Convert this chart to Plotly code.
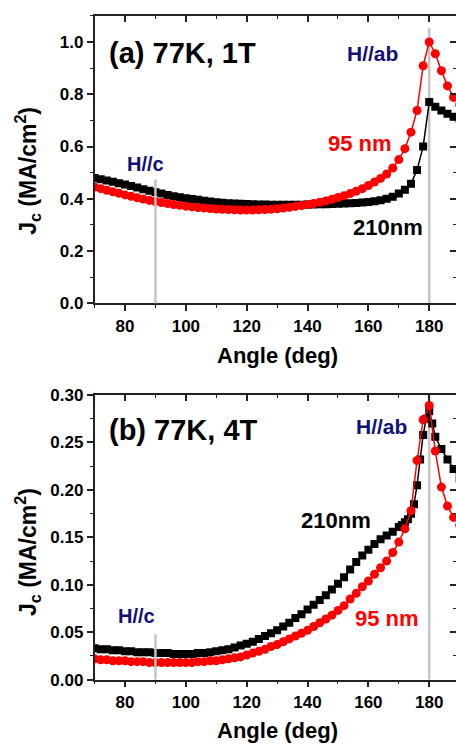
import plotly.graph_objects as go

# ---------------- data ----------------
# Panel (a) 77K, 1T
ang_a = list(range(70, 191, 2))
jc_a_210 = [0.480, 0.475, 0.470, 0.465, 0.460, 0.455, 0.449, 0.443, 0.437, 0.431,
            0.425, 0.420, 0.415, 0.410, 0.406, 0.402, 0.399, 0.396, 0.393, 0.390,
            0.387, 0.385, 0.383, 0.382, 0.381, 0.380, 0.379, 0.378, 0.378, 0.377,
            0.377, 0.377, 0.377, 0.377, 0.377, 0.378, 0.378, 0.379, 0.379, 0.380,
            0.381, 0.382, 0.383, 0.384, 0.386, 0.388, 0.391, 0.395, 0.400, 0.408,
            0.420, 0.435, 0.458, 0.510, 0.600, 0.770, 0.752, 0.738, 0.725, 0.714,
            0.705]
jc_a_95 = [0.445, 0.439, 0.433, 0.427, 0.421, 0.415, 0.410, 0.404, 0.399, 0.394,
           0.390, 0.386, 0.382, 0.378, 0.375, 0.372, 0.369, 0.367, 0.365, 0.363,
           0.361, 0.360, 0.359, 0.358, 0.357, 0.357, 0.357, 0.358, 0.359, 0.360,
           0.362, 0.365, 0.368, 0.371, 0.374, 0.378, 0.382, 0.387, 0.392, 0.398,
           0.405, 0.412, 0.420, 0.429, 0.439, 0.451, 0.464, 0.478, 0.495, 0.518,
           0.550, 0.592, 0.655, 0.738, 0.909, 1.000, 0.955, 0.890, 0.832, 0.788,
           0.760]

# Panel (b) 77K, 4T
ang_b_210 = list(range(70, 171, 2)) + list(range(171, 183)) + [184, 186, 188, 190]
jc_b_210 = [0.033, 0.032, 0.032, 0.031, 0.031, 0.030, 0.030, 0.029, 0.029, 0.029,
            0.028, 0.028, 0.028, 0.027, 0.027, 0.027, 0.027, 0.028, 0.028, 0.029,
            0.030, 0.031, 0.032, 0.034, 0.036, 0.038, 0.040, 0.043, 0.046, 0.049,
            0.052, 0.056, 0.060, 0.065, 0.069, 0.074, 0.079, 0.084, 0.089, 0.095,
            0.101, 0.108, 0.116, 0.124, 0.131, 0.137, 0.143, 0.148, 0.152, 0.156,
            0.161,
            0.163, 0.166, 0.169, 0.175, 0.185, 0.205, 0.232, 0.258, 0.275, 0.283,
            0.270, 0.256,
            0.243, 0.232, 0.222, 0.212]
ang_b_95 = list(range(70, 191, 2))
jc_b_95 = [0.022, 0.021, 0.021, 0.020, 0.020, 0.020, 0.019, 0.019, 0.019, 0.018,
           0.018, 0.018, 0.018, 0.018, 0.018, 0.018, 0.018, 0.019, 0.019, 0.020,
           0.020, 0.021, 0.022, 0.023, 0.024, 0.026, 0.028, 0.030, 0.032, 0.035,
           0.037, 0.040, 0.043, 0.046, 0.049, 0.052, 0.056, 0.060, 0.064, 0.068,
           0.073, 0.078, 0.085, 0.091, 0.098, 0.104, 0.111, 0.118, 0.125, 0.134,
           0.145, 0.159, 0.178, 0.231, 0.274, 0.289, 0.241, 0.203, 0.183, 0.171,
           0.163]

x_ticks = [80, 100, 120, 140, 160, 180]
ya_ticks = [0.0, 0.2, 0.4, 0.6, 0.8, 1.0]
ya_labels = ["0.0", "0.2", "0.4", "0.6", "0.8", "1.0"]
yb_ticks = [0.0, 0.05, 0.10, 0.15, 0.20, 0.25, 0.30]
yb_labels = ["0.00", "0.05", "0.10", "0.15", "0.20", "0.25", "0.30"]

H_C = 90
H_AB = 180

# ---------------- figure ----------------
W, H = 456, 755
FONT = "Liberation Sans, Arial, sans-serif"
RED = "#ff0000"
NAVY = "#10107a"
GRAY = "#c4c4c4"


def px_x(p):
    return p / W


def px_y(p):
    return (H - p) / H


XR = [70, 188.8]
XDOM = [px_x(94.6), 1.0]
YDOM_A = [px_y(302), px_y(7)]
YR_A = [0, 1.1]
YDOM_B = [px_y(688), px_y(396)]
YR_B = [0, 0.30]

fig = go.Figure()


def add_series(x, y, color, symbol, size, xa, ya):
    fig.add_trace(go.Scatter(
        x=x, y=y, mode="lines+markers", xaxis=xa, yaxis=ya,
        line=dict(color=color, width=1.5),
        marker=dict(color=color, symbol=symbol, size=size, line=dict(width=0)),
        showlegend=False, hoverinfo="skip"))


add_series(ang_a, jc_a_210, "black", "square", 8, "x", "y")
add_series(ang_a, jc_a_95, RED, "circle", 9, "x", "y")
add_series(ang_b_210, jc_b_210, "black", "square", 8, "x2", "y2")
add_series(ang_b_95, jc_b_95, RED, "circle", 9, "x2", "y2")

# dummy traces to create overlay subplots for inner ticks (top / right)
fig.add_trace(go.Scatter(x=[None], y=[None], xaxis="x3", yaxis="y3", showlegend=False))
fig.add_trace(go.Scatter(x=[None], y=[None], xaxis="x4", yaxis="y4", showlegend=False))

tickfont = dict(family=FONT, size=17, color="black", weight="bold")
axis_common = dict(showgrid=False, zeroline=False, showline=True, linecolor="#222",
                   linewidth=1.5, tickcolor="#222", tickwidth=1.5)

xbase = dict(range=XR, domain=XDOM, tickvals=x_ticks, ticks="outside", ticklen=6,
             tickfont=tickfont,
             minor=dict(dtick=10, tick0=70, ticks="outside", ticklen=3, tickcolor="#222",
                        tickwidth=1.2),
             **axis_common)

fig.update_layout(
    width=W, height=H,
    margin=dict(l=0, r=0, t=0, b=0),
    paper_bgcolor="white", plot_bgcolor="white",
    showlegend=False,
    xaxis=dict(anchor="y", **xbase),
    yaxis=dict(domain=YDOM_A, range=YR_A, anchor="x", tickvals=ya_ticks,
               ticktext=ya_labels, ticks="outside", ticklen=6, tickfont=tickfont,
               minor=dict(dtick=0.1, ticks="outside", ticklen=3, tickcolor="#222",
                          tickwidth=1.2),
               **axis_common),
    xaxis2=dict(anchor="y2", **xbase),
    yaxis2=dict(domain=YDOM_B, range=YR_B, anchor="x2", tickvals=yb_ticks,
                ticktext=yb_labels, ticks="outside", ticklen=6, tickfont=tickfont,
                minor=dict(dtick=0.025, ticks="outside", ticklen=3, tickcolor="#222",
                           tickwidth=1.2),
                **axis_common),
    xaxis3=dict(overlaying="x", anchor="y", side="top", range=XR, domain=XDOM,
                tickvals=x_ticks, ticks="inside", ticklen=6, showticklabels=False,
                minor=dict(dtick=10, tick0=70, ticks="inside", ticklen=3, tickcolor="#222",
                           tickwidth=1.2),
                **axis_common),
    yaxis3=dict(overlaying="y", anchor="x", side="right", range=YR_A,
                tickvals=ya_ticks, ticks="inside", ticklen=6, showticklabels=False,
                minor=dict(dtick=0.1, ticks="inside", ticklen=3, tickcolor="#222",
                           tickwidth=1.2),
                showgrid=False, zeroline=False, showline=False, tickcolor="#222",
                tickwidth=1.5),
    xaxis4=dict(overlaying="x2", anchor="y2", side="top", range=XR, domain=XDOM,
                tickvals=x_ticks, ticks="inside", ticklen=6, showticklabels=False,
                minor=dict(dtick=10, tick0=70, ticks="inside", ticklen=3, tickcolor="#222",
                           tickwidth=1.2),
                **axis_common),
    yaxis4=dict(overlaying="y2", anchor="x2", side="right", range=YR_B,
                tickvals=yb_ticks, ticks="inside", ticklen=6, showticklabels=False,
                minor=dict(dtick=0.025, ticks="inside", ticklen=3, tickcolor="#222",
                           tickwidth=1.2),
                showgrid=False, zeroline=False, showline=False, tickcolor="#222",
                tickwidth=1.5),
)


# reference lines H//c and H//ab
def vline(xr, yr, x, y1, layer):
    fig.add_shape(type="line", xref=xr, yref=yr, x0=x, x1=x, y0=0, y1=y1,
                  line=dict(color=GRAY, width=2.5), layer=layer)


vline("x", "y", H_C, 0.474, "above")
vline("x", "y", H_AB, 1.052, "below")
vline("x2", "y2", H_C, 0.048, "above")
vline("x2", "y2", H_AB, 0.30, "below")


def txt(xr, yr, x, y, s, color, size, xanchor="center"):
    fig.add_annotation(xref=xr, yref=yr, x=x, y=y, text=s, showarrow=False,
                       xanchor=xanchor, yanchor="middle",
                       font=dict(family=FONT, size=size, color=color, weight="bold"))


# panel (a) labels
txt("x", "y", 74.1, 0.959, "(a) 77K, 1T", "black", 29, "left")
txt("x", "y", 161.2, 0.955, "H//ab", NAVY, 21)
txt("x", "y", 157.2, 0.612, "95 nm", RED, 22)
txt("x", "y", 86.6, 0.534, "H//c", NAVY, 20)
txt("x", "y", 166.4, 0.291, "210nm", "black", 22)

# panel (b) labels
txt("x2", "y2", 74.1, 0.263, "(b) 77K, 4T", "black", 29, "left")
txt("x2", "y2", 164.4, 0.267, "H//ab", NAVY, 21)
txt("x2", "y2", 149.3, 0.1675, "210nm", "black", 22)
txt("x2", "y2", 166.1, 0.0647, "95 nm", RED, 22)
txt("x2", "y2", 83.9, 0.0668, "H//c", NAVY, 20)

# axis titles
for yc in (355, 740):
    fig.add_annotation(xref="paper", yref="paper", x=px_x(277), y=px_y(yc),
                       text="Angle (deg)", showarrow=False, xanchor="center",
                       yanchor="middle",
                       font=dict(family=FONT, size=22, color="black", weight="bold"))
for yc in (166, 557):
    fig.add_annotation(xref="paper", yref="paper", x=px_x(27), y=px_y(yc),
                       text="J<sub>c</sub> (MA/cm<sup>2</sup>)", showarrow=False,
                       textangle=-90, xanchor="center", yanchor="middle",
                       font=dict(family=FONT, size=23, color="black", weight="bold"))

# remove the default page margin so the 456x755 figure fills the window exactly
fig.write_html(
    "out.html",
    config={"displayModeBar": False},
    post_script="document.body.style.margin='0';document.body.style.overflow='hidden';",
)
